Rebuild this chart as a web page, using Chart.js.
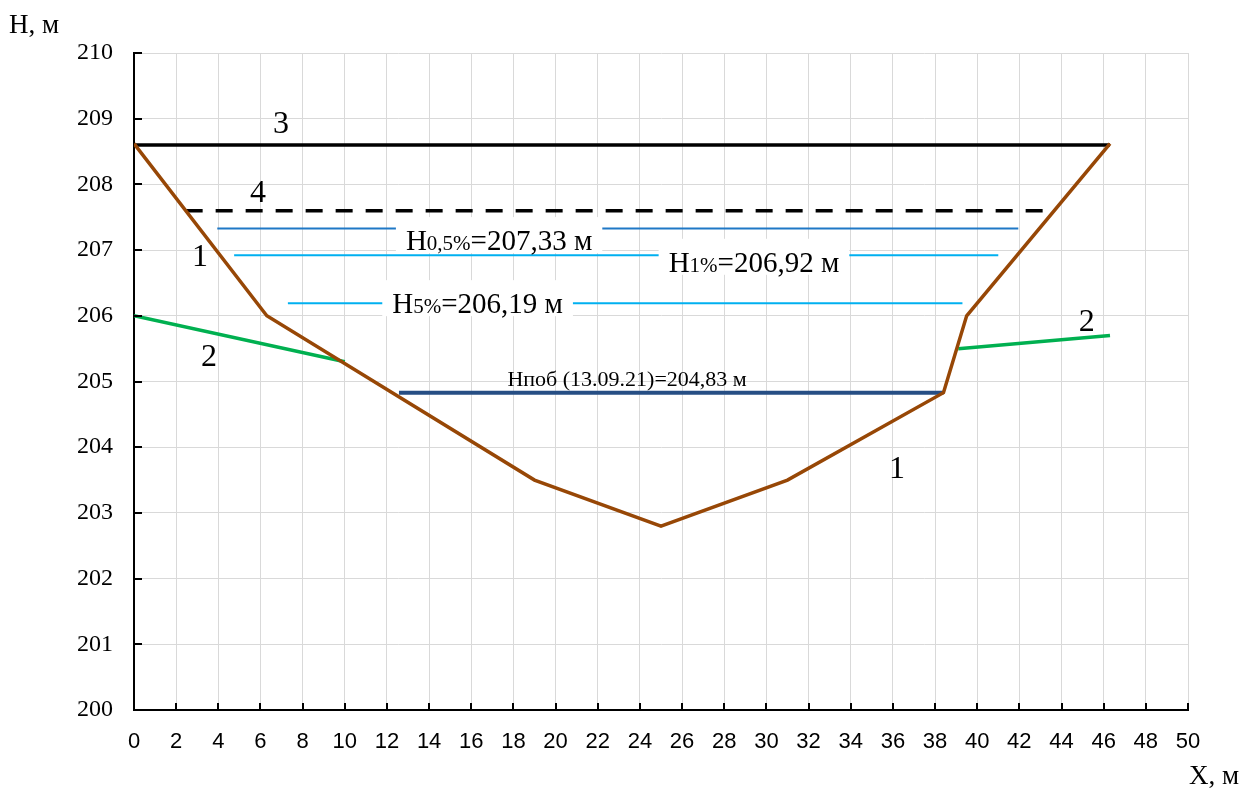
<!DOCTYPE html>
<html>
<head>
<meta charset="utf-8">
<script src="https://cdn.jsdelivr.net/npm/chart.js@4.4.1/dist/chart.umd.min.js"></script>
<style>
  html, body { margin: 0; padding: 0; background: #fff; }
  #wrap { width: 1248px; height: 791px; position: relative; }
</style>
</head>
<body>
<div id="wrap"><canvas id="myChart"></canvas></div>
<script>
// cross-section profile (1)
const profileX = [0, 6.3, 19, 25, 31, 38.4, 39.5, 46.3];
const profileH = [208.62, 206.0, 203.5, 202.8, 203.5, 204.83, 206.0, 208.62];

// natural ground beyond the channel (2)
const groundLeftX = [0, 10];
const groundLeftH = [206.0, 205.3];
const groundRightX = [39.1, 46.3];
const groundRightH = [205.5, 205.7];

// levels: 3 - top, 4 - dashed, design water levels, observed level
const level3X = [0, 46.3];
const level3H = [208.6, 208.6];
const level4X = [2.45, 43.4];
const level4H = [207.6, 207.6];
const h05X = [3.95, 41.95];
const h05H = [207.33, 207.33];
const h1X = [4.75, 41.0];
const h1H = [206.92, 206.92];
const h5X = [7.3, 39.3];
const h5H = [206.19, 206.19];
const hpobX = [12.57, 38.4];
const hpobH = [204.83, 204.83];

const xTicks = [0, 2, 4, 6, 8, 10, 12, 14, 16, 18, 20, 22, 24, 26, 28, 30, 32, 34, 36, 38, 40, 42, 44, 46, 48, 50];
const yTicks = [200, 201, 202, 203, 204, 205, 206, 207, 208, 209, 210];

const pts = (xs, ys) => xs.map((x, i) => ({ x: x, y: ys[i] }));

const SERIF = '"Liberation Serif", "Times New Roman", serif';

// text notes: parts [text, px size], anchor (data units, baseline centre), white box or not
const notes = [
  { parts: [['3', 32]], x: 6.97, y: 208.78 },
  { parts: [['4', 32]], x: 5.88, y: 207.73 },
  { parts: [['1', 32]], x: 3.13, y: 206.76 },
  { parts: [['2', 32]], x: 3.56, y: 205.24 },
  { parts: [['2', 32]], x: 45.2, y: 205.77 },
  { parts: [['1', 32]], x: 36.2, y: 203.53 },
  { parts: [['Н', 29], ['0,5%', 21], ['=207,33 м', 29]], x: 17.32, y: 207.0, box: true },
  { parts: [['Н', 29], ['1%', 21], ['=206,92 м', 29]], x: 29.41, y: 206.67, box: true },
  { parts: [['Н', 29], ['5%', 21], ['=206,19 м', 29]], x: 16.3, y: 206.04, box: true },
  { parts: [['Нпоб (13.09.21)=204,83 м', 22]], x: 23.39, y: 204.93 }
];

const notesPlugin = {
  id: 'notes',
  afterDatasetsDraw(chart) {
    const ctx = chart.ctx;
    const sx = chart.scales.x, sy = chart.scales.y;
    ctx.save();
    ctx.textBaseline = 'alphabetic';
    ctx.textAlign = 'left';
    notes.forEach(n => {
      let w = 0;
      n.parts.forEach(p => { ctx.font = p[1] + 'px ' + SERIF; w += ctx.measureText(p[0]).width; });
      const cx = sx.getPixelForValue(n.x);
      const by = sy.getPixelForValue(n.y);
      let left = cx - w / 2;
      if (n.box) {
        ctx.fillStyle = '#fff';
        ctx.fillRect(left - 10, by - 33, w + 20, 36);
      }
      ctx.fillStyle = '#000';
      n.parts.forEach(p => {
        ctx.font = p[1] + 'px ' + SERIF;
        ctx.fillText(p[0], left, by);
        left += ctx.measureText(p[0]).width;
      });
    });

    // inner tick marks
    ctx.strokeStyle = '#000';
    ctx.lineWidth = 2;
    const area = chart.chartArea;
    xTicks.forEach(v => {
      const px = Math.round(sx.getPixelForValue(v));
      ctx.beginPath(); ctx.moveTo(px, area.bottom); ctx.lineTo(px, area.bottom - 7); ctx.stroke();
    });
    yTicks.forEach(v => {
      const py = Math.round(sy.getPixelForValue(v));
      ctx.beginPath(); ctx.moveTo(area.left, py); ctx.lineTo(area.left + 8, py); ctx.stroke();
    });

    // axis titles
    ctx.font = '27px ' + SERIF;
    ctx.fillText('Н, м', 9, 33);
    ctx.fillText('Х, м', 1189, 784);
    ctx.restore();
  }
};

const line = (data, color, width, extra) => Object.assign({
  data: data,
  borderColor: color,
  borderWidth: width,
  pointRadius: 0,
  fill: false,
  tension: 0
}, extra || {});

new Chart(document.getElementById('myChart').getContext('2d'), {
  type: 'line',
  data: {
    datasets: [
      line(pts(profileX, profileH), '#974706', 3.5),
      line(pts(groundLeftX, groundLeftH), '#00B050', 3.5),
      line(pts(groundRightX, groundRightH), '#00B050', 3.5),
      line(pts(level3X, level3H), '#000000', 3.5),
      line(pts(level4X, level4H), '#000000', 3.5, { borderDash: [17, 13] }),
      line(pts(h05X, h05H), '#1F78C6', 2),
      line(pts(h1X, h1H), '#00B0F0', 2),
      line(pts(h5X, h5H), '#00B0F0', 2),
      line(pts(hpobX, hpobH), '#264E84', 4)
    ]
  },
  options: {
    responsive: true,
    maintainAspectRatio: false,
    animation: false,
    layout: { padding: { left: 0, top: 53, right: 60, bottom: 0 } },
    plugins: { legend: { display: false }, tooltip: { enabled: false } },
    scales: {
      x: {
        type: 'linear',
        min: 0, max: 50,
        afterFit: s => { s.height = 81; },
        afterBuildTicks: s => { s.ticks = xTicks.map(v => ({ value: v })); },
        grid: { color: '#d9d9d9', lineWidth: 1, drawTicks: false },
        border: { color: '#000', width: 2 },
        ticks: {
          padding: 19,
          color: '#000',
          maxRotation: 0,
          autoSkip: false,
          font: { family: '"Liberation Sans Narrow", "Liberation Sans", sans-serif', size: 22 }
        }
      },
      y: {
        min: 200, max: 210,
        afterFit: s => { s.width = 134; },
        afterBuildTicks: s => { s.ticks = yTicks.map(v => ({ value: v })); },
        grid: { color: '#d9d9d9', lineWidth: 1, drawTicks: false },
        border: { color: '#000', width: 2 },
        ticks: {
          padding: 21,
          color: '#000',
          font: { family: SERIF, size: 24 }
        }
      }
    }
  },
  plugins: [notesPlugin]
});
</script>
</body>
</html>
